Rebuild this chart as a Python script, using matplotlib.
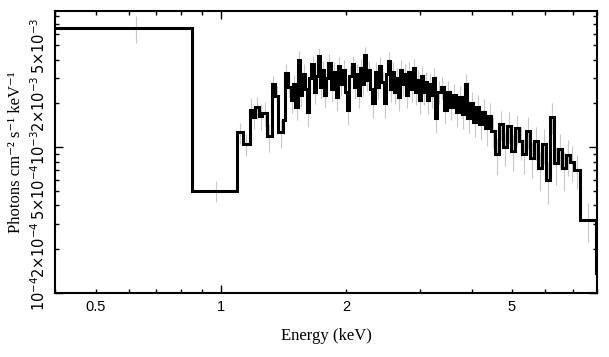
import numpy as np
import matplotlib
matplotlib.use("Agg")
import matplotlib.pyplot as plt
from matplotlib.ticker import FixedLocator, FuncFormatter

plt.rcParams['mathtext.fontset'] = 'custom'
plt.rcParams['mathtext.rm'] = 'Liberation Sans'
plt.rcParams['mathtext.it'] = 'Liberation Sans:italic'
plt.rcParams['mathtext.bf'] = 'Liberation Sans:bold'

# ---------------- data (energies in keV, flux in photons cm^-2 s^-1 keV^-1) ----------------
edges_soft = [0.396, 0.852, 1.090, 1.130, 1.173]
flux_soft = [6.57e-3, 5.06e-4, 1.265e-3, 1.05e-3]
err_soft = [0.21, 0.16, 0.16, 0.17]

edges_rise = [1.173, 1.19, 1.207, 1.233, 1.257, 1.289, 1.325, 1.347, 1.375,
              1.407, 1.427, 1.447, 1.472]
flux_rise = [1.81e-3, 1.62e-3, 1.90e-3, 1.64e-3, 1.72e-3, 1.19e-3, 2.70e-3,
             2.25e-3, 1.27e-3, 1.55e-3, 3.25e-3, 2.60e-3]
err_rise = [0.20, 0.18, 0.17, 0.20, 0.19, 0.22, 0.15, 0.17, 0.22, 0.20, 0.15, 0.16]

edges_peak = [1.472, 1.49, 1.51, 1.53, 1.55, 1.57, 1.59, 1.61, 1.63, 1.65,
              1.67, 1.69, 1.71, 1.73, 1.75, 1.77, 1.79, 1.81, 1.835, 1.86,
              1.885, 1.91, 1.935, 1.96, 1.985, 2.01, 2.035, 2.06, 2.085, 2.11,
              2.135, 2.16, 2.185, 2.21, 2.235, 2.26, 2.285, 2.31, 2.34, 2.37,
              2.40, 2.43, 2.46, 2.49, 2.52, 2.55, 2.58, 2.61, 2.64, 2.67,
              2.70, 2.73, 2.76, 2.79, 2.82, 2.855, 2.89, 2.925, 2.96, 2.995,
              3.03, 3.065, 3.10, 3.135, 3.17, 3.205, 3.24, 3.275, 3.31, 3.37]
flux_peak = [2.1e-3, 2.7e-3, 1.9e-3, 4.0e-3, 2.3e-3, 3.2e-3, 2.5e-3, 1.75e-3, 3.0e-3, 3.7e-3,
             2.4e-3, 3.1e-3, 4.2e-3, 2.6e-3, 3.4e-3, 2.3e-3, 3.0e-3, 3.8e-3, 2.5e-3, 3.3e-3,
             2.2e-3, 3.6e-3, 2.7e-3, 3.4e-3, 2.4e-3, 1.8e-3, 3.1e-3, 3.7e-3, 2.6e-3, 3.2e-3,
             2.3e-3, 3.5e-3, 2.7e-3, 4.3e-3, 2.9e-3, 3.4e-3, 2.5e-3, 2.0e-3, 3.3e-3, 2.6e-3,
             3.6e-3, 2.8e-3, 2.0e-3, 3.2e-3, 3.9e-3, 2.5e-3, 3.3e-3, 2.4e-3, 3.0e-3, 2.2e-3,
             3.4e-3, 2.7e-3, 3.2e-3, 2.3e-3, 3.3e-3, 2.5e-3, 3.5e-3, 2.4e-3, 2.9e-3, 2.1e-3,
             3.1e-3, 2.4e-3, 2.8e-3, 2.1e-3, 2.7e-3, 2.3e-3, 3.0e-3, 1.6e-3, 2.4e-3]
err_peak = [0.18, 0.16, 0.19, 0.14, 0.18, 0.16, 0.17, 0.21, 0.16, 0.15,
            0.18, 0.16, 0.14, 0.17, 0.15, 0.19, 0.16, 0.15, 0.18, 0.16,
            0.19, 0.15, 0.17, 0.16, 0.18, 0.21, 0.16, 0.15, 0.17, 0.16,
            0.19, 0.15, 0.17, 0.14, 0.16, 0.15, 0.18, 0.20, 0.16, 0.17,
            0.15, 0.17, 0.20, 0.16, 0.15, 0.18, 0.16, 0.18, 0.17, 0.19,
            0.16, 0.17, 0.16, 0.19, 0.16, 0.18, 0.16, 0.19, 0.17, 0.20,
            0.17, 0.19, 0.18, 0.20, 0.18, 0.19, 0.17, 0.22, 0.18]

edges_tail_a = [3.37, 3.43, 3.49, 3.55, 3.61, 3.67, 3.73, 3.79, 3.85, 3.91,
                3.97, 4.04, 4.11, 4.18, 4.25, 4.32, 4.39, 4.46, 4.56]
flux_tail_a = [2.6e-3, 1.8e-3, 2.4e-3, 1.9e-3, 2.3e-3, 1.75e-3, 2.2e-3, 1.7e-3, 2.7e-3,
               1.6e-3, 2.0e-3, 1.5e-3, 1.9e-3, 1.45e-3, 1.75e-3, 1.35e-3, 1.65e-3, 1.3e-3]
err_tail_a = [0.17, 0.20, 0.18, 0.19, 0.18, 0.21, 0.19, 0.21, 0.17,
              0.22, 0.20, 0.22, 0.21, 0.23, 0.22, 0.24, 0.23, 0.24]

edges_tail_b = [4.56, 4.66, 4.76, 4.86, 4.97, 5.08, 5.19, 5.30, 5.42, 5.54,
                5.66, 5.78, 5.91, 6.04, 6.17, 6.31, 6.45, 6.59, 6.74, 6.89,
                7.04, 7.30]
flux_tail_b = [0.9e-3, 1.45e-3, 1.0e-3, 1.4e-3, 0.95e-3, 1.35e-3, 1.1e-3, 0.9e-3, 1.3e-3,
               0.85e-3, 1.1e-3, 0.72e-3, 1.05e-3, 0.6e-3, 1.62e-3, 0.78e-3, 0.98e-3, 0.72e-3,
               0.88e-3, 0.8e-3, 0.70e-3]
err_tail_b = [0.28, 0.23, 0.26, 0.24, 0.27, 0.24, 0.25, 0.27, 0.25, 0.28,
              0.26, 0.30, 0.27, 0.32, 0.24, 0.29, 0.27, 0.30, 0.28, 0.28, 0.26]

edges_end = [7.30, 7.98, 9.0]
flux_end = [3.2e-4, 1.38e-4]
err_end = [0.30, 0.40]

x_major = [1.0]
x_minor = [0.4, 0.5, 0.6, 0.7, 0.8, 0.9, 2, 3, 4, 5, 6, 7, 8]
x_labels = {0.5: '0.5', 1.0: '1', 2: '2', 5: '5'}
y_major = [1e-4, 1e-3, 1e-2]
y_minor = [m * d for d in (1e-4, 1e-3) for m in range(2, 10)]
y_labels = {1e-4: r'$\mathregular{10^{-4}}$', 2e-4: r'$\mathregular{2{\times}10^{-4}}$',
            5e-4: r'$\mathregular{5{\times}10^{-4}}$', 1e-3: r'$\mathregular{10^{-3}}$',
            2e-3: r'$\mathregular{2{\times}10^{-3}}$', 5e-3: r'$\mathregular{5{\times}10^{-3}}$'}

# ---------------- assemble ----------------
edges = np.array(edges_soft + edges_rise[1:] + edges_peak[1:] + edges_tail_a[1:]
                 + edges_tail_b[1:] + edges_end[1:])
flux = np.array(flux_soft + flux_rise + flux_peak + flux_tail_a + flux_tail_b + flux_end)
rel = np.array(err_soft + err_rise + err_peak + err_tail_a + err_tail_b + err_end)
centers = 0.5 * (edges[:-1] + edges[1:])

fig = plt.figure(figsize=(6.09, 3.57), dpi=100)
ax = fig.add_axes([0.0908, 0.1784, 0.8892, 0.7908])
ax.set_xscale('log')
ax.set_yscale('log')

ax.vlines(centers, flux * (1 - rel), flux * (1 + rel), color='#c8c8c8', lw=0.8, zorder=1)
ax.stairs(flux, edges, baseline=None, color='black', lw=2.2, zorder=2)

ax.set_xlim(0.4, 8.0)
ax.set_ylim(1e-4, 8.6e-3)

def lab(d):
    def f(v, pos):
        for k, s in d.items():
            if abs(v - k) / k < 1e-6:
                return s
        return ''
    return f

ax.xaxis.set_major_locator(FixedLocator(x_major))
ax.xaxis.set_minor_locator(FixedLocator(x_minor))
ax.xaxis.set_major_formatter(FuncFormatter(lab(x_labels)))
ax.xaxis.set_minor_formatter(FuncFormatter(lab(x_labels)))
ax.yaxis.set_major_locator(FixedLocator(y_major))
ax.yaxis.set_minor_locator(FixedLocator(y_minor))
ax.yaxis.set_major_formatter(FuncFormatter(lab(y_labels)))
ax.yaxis.set_minor_formatter(FuncFormatter(lab(y_labels)))

for which, L in (('major', 6), ('minor', 3.2)):
    ax.tick_params(axis='both', which=which, direction='in', top=True, right=True,
                   length=L, width=1.0, labelsize=10.5, color='black')
ax.tick_params(axis='x', which='both', pad=5)
ax.tick_params(axis='y', which='both', pad=5)
for lbl in ax.get_xticklabels(which='both'):
    lbl.set_fontfamily('Liberation Sans')
for lbl in ax.get_yticklabels(which='both'):
    lbl.set_rotation(90)
    lbl.set_va('center')
    lbl.set_ha('right')
for s in ax.spines.values():
    s.set_linewidth(1.5)

ax.set_xlabel('Energy (keV)', family=['Liberation Serif', 'DejaVu Serif'], fontsize=12, labelpad=10)
ax.set_ylabel('Photons cm\u207b\u00b2 s\u207b\u00b9 keV\u207b\u00b9',
              family=['Liberation Serif', 'DejaVu Serif'], fontsize=12, labelpad=4)

fig.savefig('out.png', dpi=100)
